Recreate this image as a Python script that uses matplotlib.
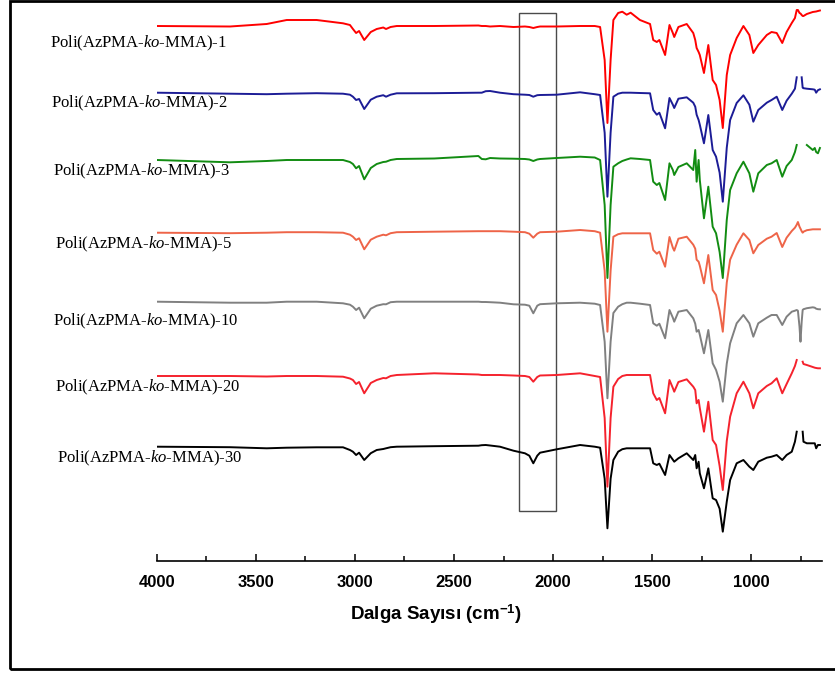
import numpy as np
import matplotlib
matplotlib.use("Agg")
import matplotlib.pyplot as plt
from matplotlib.patches import Rectangle
from matplotlib.ticker import MultipleLocator

plt.rcParams["mathtext.fontset"] = "custom"
plt.rcParams["mathtext.rm"] = "Liberation Serif"
plt.rcParams["mathtext.it"] = "Liberation Serif:italic"
plt.rcParams["mathtext.bf"] = "Liberation Sans:bold"

nan = np.nan

# wavenumbers (cm-1) where the spectra were sampled
wn = [4000, 3630, 3445, 3344, 3193, 3060, 3025, 3010, 2994, 2979,
      2953, 2920, 2890, 2857, 2843, 2820, 2789, 2600, 2377, 2360,
      2340, 2318, 2268, 2200, 2142, 2120, 2100, 2080, 2066, 1982,
      1864, 1790, 1763, 1740, 1726, 1710, 1696, 1672, 1651, 1629,
      1609, 1562, 1511, 1495, 1477, 1464, 1435, 1413, 1396, 1389,
      1368, 1326, 1293, 1283, 1276, 1266, 1260, 1239, 1217, 1195,
      1178, 1160, 1144, 1124, 1107, 1074, 1040, 1010, 990, 965,
      922, 898, 872, 844, 822, 796, 780, 771, 765, 757,
      752, 746, 741, 737, 720, 690, 680, 673, 664, 654]

# transmittance relative to the 4000 cm-1 level (a.u.)
t1 = [0, -0.5, 2, 6, 6, 2.7, 1, -3, -7, -5,
      -14, -6, -3, -1.5, -3, -1, 0, 0, 0.5, 0,
      0, -0.5, 0, -1, -0.5, -1, -2, -1, -0.5, -0.5,
      0, 0, -1, -34, -97, -34, 6, 13, 14.3, 11.3,
      13.3, 6, 2, -14, -16, -14, -29, 1, -7, -11,
      -1, 2, -7, -14, -22, -26, -29, -47, -19, -54,
      -59, -74, -102, -49, -29, -12, 0, -9, -27, -19,
      -9, -6, -7, -17, -6, 3, 8, 16, 16, 13,
      12.5, 11, 10, 10, 12, 14, 14.3, 14.5, 15, 15.5]

t2 = [0, -1, -1.5, -1, -0.5, -1, -2, -4, -7.3, -6.3,
      -16.3, -7, -4, -2.5, -4, -2, -0.6, -0.5, 0, 0,
      1.5, 1.7, 0, -1.5, -2, -2.3, -4, -2.5, -2.3, -2,
      0.4, -1.5, -2.3, -40, -104, -40, -4, -1, 0, 0,
      0, -0.3, -0.6, -17.3, -22, -20, -35.6, -5.3, -12, -15.3,
      -6, -4.6, -10, -14, -22, -27.3, -32, -50.6, -22.3, -57.3,
      -64, -80, -109, -55, -27.3, -10.3, -2.6, -12, -29, -17.3,
      -10, -7.3, -4, -17.3, -8, -1, 4, 15.4, nan, nan,
      nan, 15.4, 5, 4.5, 4, 3.4, 3, 0, 2.5, 3.4]

t3 = [0, -2.3, -1, 0, 0, 0, -2, -4, -8.3, -6,
      -19.3, -8, -4, -2, -1.7, 0, 1, 1.5, 4, 1,
      0.7, 2, 1.5, 1.3, 1, 0.5, -1, 0.5, 1, 2,
      3.3, 2.5, 0, -45, -118, -45, -6.7, -3.3, -1, 0.5,
      1.7, 1, 0, -21.7, -25, -23, -40, -3.3, -10, -15,
      -7, -3.3, -10, 10, -21.7, 0, -20, -58.3, -26.7, -66.7,
      -73.3, -92, -118, -60, -30, -13.3, -1.7, -13.3, -31.7, -13.3,
      -5, -3.3, 0, -16.7, -6, 0, 8, 15, nan, nan,
      nan, nan, nan, nan, 15, 10, 12, 8, 6.7, 12]

t5 = [0, -0.5, 0, 0.5, 0.5, 0, -2, -4, -7.3, -5.6,
      -16.6, -7, -4, -2, -2.6, -0.5, 0.5, 1, 1.5, 1.5,
      1.5, 1.5, 1.5, 1, 0.5, -1, -5, -1, 0.5, 1,
      2.7, 1.5, 0, -38, -99, -38, -4, -1.5, -0.6, -0.6,
      -0.6, -0.6, -0.6, -17.3, -21, -19, -34, -4.3, -15, -18,
      -6, -4, -12, -16, -27, -29, -33, -50.6, -22.3, -57.3,
      -62.3, -78, -99, -50, -27, -12, -0.6, -7.3, -20.6, -12.3,
      -6, -4, -0.3, -14.3, -5, 1.7, 5, 8, 10.7, 6,
      4, 1.5, 0, 1, 2.5, 3.4, 3.4, 3.4, 3.4, 3.4]

t10 = [0, -1, -1, 0, 0, -1.6, -3, -5, -8.3, -6,
       -16.6, -7, -4, -2.5, -2.6, -0.5, 0, 0, 0, -0.3,
       -0.3, -0.5, -1, -2.6, -3, -4, -11.6, -4, -2.5, -1.6,
       -1, -2, -3.3, -40, -96.6, -40, -11.3, -5, -2.5, -1,
       -1, -2, -3.3, -21.6, -24, -22, -36.6, -8.3, -16, -20,
       -10, -8.3, -16.6, -22, -30, -28.3, -33, -51.6, -28.3, -61.6,
       -68.3, -80, -100, -62, -41.6, -21.6, -13.3, -21.6, -35, -21.6,
       -16, -13.3, -13.3, -23.3, -15, -10, -9, -8.3, -9, -25,
       -40, -20, -8.3, -7.5, -6.5, -5.6, -6, -7, -7.5, -7.6]

t20 = [0, 0, -0.5, 0, 0, -0.7, -2.5, -4, -8, -6,
       -17.3, -7, -4, -2, -2.3, 0, 1, 2.7, 1.5, 1,
       1, 1, 1, 0.5, 0, -1, -5.7, -1, 0.5, 1,
       2.7, 0, -1, -42, -110.7, -42, -10.7, -3, 0, 1,
       1, 1, 1, -17.3, -24, -22, -37.3, -4, -12, -15.7,
       -6, -3.3, -10.7, -14, -27.3, -24, -32, -55.7, -25.7, -64,
       -69, -90, -114, -65, -40.7, -17.3, -5.7, -17.3, -32.3, -17.3,
       -10, -7.3, -2.3, -17.3, -8, 2.7, 10, 16, nan, nan,
       nan, nan, 14.3, 12, 11, 9, 8.3, 8, 7.7, 7.7]

t30 = [0, -0.5, -1.6, -1, -0.6, -0.6, -3.3, -5, -8.3, -6,
       -13.3, -6.5, -3.3, -2.3, -1.6, -0.5, 0, 0.5, 1, 1.5,
       1.7, 1.2, 0, -4, -6.6, -9, -16.6, -9, -6, -2.6,
       1.7, 0, -1, -32, -81.6, -32, -13.3, -5, -2.5, -1.6,
       -1.6, -1.6, -1.6, -16.6, -18.3, -17, -28.3, -8.3, -13, -15,
       -11.6, -6.6, -13.3, -8.3, -21.6, -15, -26.6, -41.6, -21.6, -51.6,
       -53.3, -62, -85, -55, -33.3, -16.6, -13.3, -20, -23.3, -15,
       -11, -10, -8.3, -13.3, -8.3, -5, 5, 15, nan, nan,
       nan, nan, 15, 5, 3.4, 3.4, 3.4, -1.6, 1.7, 1.7]

names = ["Poli(AzPMA-$ko$-MMA)-1", "Poli(AzPMA-$ko$-MMA)-2",
         "Poli(AzPMA-$ko$-MMA)-3", "Poli(AzPMA-$ko$-MMA)-5",
         "Poli(AzPMA-$ko$-MMA)-10", "Poli(AzPMA-$ko$-MMA)-20",
         "Poli(AzPMA-$ko$-MMA)-30"]
spectra = [t1, t2, t3, t5, t10, t20, t30]

# vertical stacking and styling
offsets = [534.7, 468, 400.7, 328, 259, 184.7, 114]
colors = ["#ff0000", "#1c1c96", "#128c12", "#ee6448", "#808080", "#f5222d", "#000000"]
label_xy = [(50, 43), (51, 103), (53, 171), (55, 244), (53, 321), (55, 387), (57, 458)]

W, H = 835, 677
fig = plt.figure(figsize=(W / 100, H / 100), dpi=100)
ax = fig.add_axes([156.7 / W, 1 - 560.7 / H, 665 / W, 560.7 / H])

for y, off, c in zip(spectra, offsets, colors):
    ax.plot(wn, np.array(y) + off, color=c, lw=1.4, solid_joinstyle="round")

for name, (px, py) in zip(names, label_xy):
    fig.text(px / W, 1 - py / H, name, family="Liberation Serif", fontsize=12,
             ha="left", va="center")

# azide band region
ax.add_patch(Rectangle((1984, 49.7), 188, 498, fill=False, ec="#4a4a4a", lw=1.0))

ax.set_xlim(4000, 645)
ax.set_ylim(0, 560.7)
for s in ["left", "right", "top"]:
    ax.spines[s].set_visible(False)
ax.spines["bottom"].set_linewidth(1.2)
ax.set_yticks([])
ax.xaxis.set_major_locator(MultipleLocator(500))
ax.xaxis.set_minor_locator(MultipleLocator(250))
ax.tick_params(axis="x", which="major", direction="in", length=5, width=1.1, pad=10)
ax.tick_params(axis="x", which="minor", direction="in", length=3.5, width=1.1)
for lab in ax.get_xticklabels():
    lab.set_fontfamily("Liberation Sans")
    lab.set_fontweight("bold")
    lab.set_fontsize(12)
ax.set_xlabel(r"Dalga Sayısı (cm$^{\mathbf{-1}}$)", family="Liberation Sans",
              fontweight="bold", fontsize=13.5)
ax.xaxis.set_label_coords((436 - 156.7) / 665, -0.075)
ax.patch.set_alpha(0)

# outer frame
fig.patches.append(Rectangle((10 / W, 1 - 669 / H), 1.2, 668 / H, transform=fig.transFigure,
                             fill=False, ec="black", lw=2, figure=fig))

fig.savefig("out.png", dpi=100)
